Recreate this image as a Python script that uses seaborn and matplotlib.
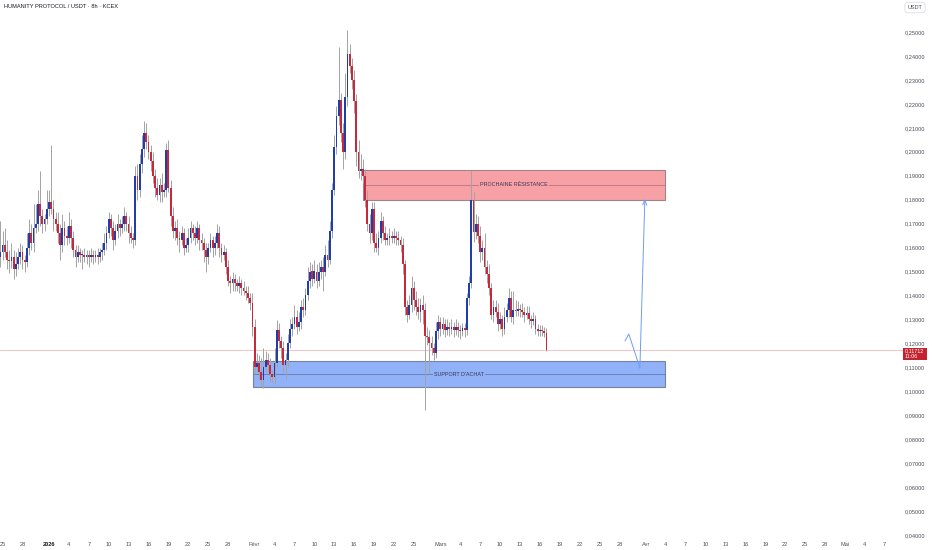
import numpy as np
import pandas as pd
import matplotlib
matplotlib.use("Agg")
import matplotlib.pyplot as plt
import matplotlib.dates as mdates
from matplotlib.patches import Rectangle
import seaborn as sns

# ---------------- data ----------------
start_time = "2025-12-24 08:00"
first_open = 0.157
closes = [
    0.156, 0.158, 0.161, 0.158, 0.155, 0.1545, 0.156, 0.151, 0.153, 0.156,
    0.158, 0.155, 0.154, 0.160, 0.166, 0.162, 0.168, 0.170, 0.178, 0.173,
    0.170, 0.172, 0.176, 0.179, 0.176, 0.172, 0.170, 0.166, 0.161, 0.168,
    0.165, 0.164, 0.169, 0.164, 0.159, 0.156, 0.158, 0.157, 0.157, 0.156,
    0.157, 0.156, 0.157, 0.156, 0.157, 0.156, 0.158, 0.159, 0.162, 0.166,
    0.172, 0.168, 0.163, 0.167, 0.170, 0.168, 0.170, 0.173, 0.170, 0.166,
    0.164, 0.163, 0.190, 0.184, 0.195, 0.201, 0.208, 0.204, 0.200, 0.196,
    0.190, 0.185, 0.182, 0.186, 0.183, 0.184, 0.2007, 0.185, 0.173, 0.167,
    0.168, 0.164, 0.163, 0.166, 0.160, 0.161, 0.164, 0.168, 0.166, 0.164,
    0.168, 0.163, 0.162, 0.159, 0.156, 0.160, 0.163, 0.160, 0.162, 0.166,
    0.160, 0.157, 0.158, 0.152, 0.146, 0.145, 0.147, 0.145, 0.144, 0.145,
    0.143, 0.142, 0.141, 0.139, 0.137, 0.127, 0.110, 0.112, 0.108, 0.1045,
    0.110, 0.113, 0.111, 0.107, 0.106, 0.112, 0.1256, 0.121, 0.118, 0.111,
    0.113, 0.120, 0.126, 0.128, 0.131, 0.127, 0.129, 0.135, 0.134, 0.140,
    0.146, 0.150, 0.147, 0.150, 0.146, 0.150, 0.152, 0.150, 0.157, 0.155,
    0.167, 0.184, 0.202, 0.215, 0.2216, 0.208, 0.200, 0.223, 0.241, 0.236,
    0.230, 0.221, 0.200, 0.192, 0.193, 0.190, 0.180, 0.170, 0.166, 0.176,
    0.162, 0.160, 0.164, 0.171, 0.166, 0.163, 0.164, 0.165, 0.164, 0.165,
    0.164, 0.163, 0.161, 0.153, 0.135, 0.132, 0.136, 0.143, 0.138, 0.135,
    0.133, 0.136, 0.134, 0.123, 0.1225, 0.120, 0.118, 0.116, 0.125, 0.129,
    0.126, 0.128, 0.1255, 0.127, 0.126, 0.127, 0.1255, 0.127, 0.1255, 0.125,
    0.1265, 0.1255, 0.139, 0.1452, 0.180, 0.1665, 0.170, 0.165, 0.158, 0.160,
    0.152, 0.149, 0.143, 0.132, 0.135, 0.133, 0.128, 0.130, 0.126, 0.131,
    0.134, 0.139, 0.131, 0.134, 0.1335, 0.1345, 0.134, 0.133, 0.132, 0.1325,
    0.130, 0.1295, 0.130, 0.126, 0.125, 0.1255, 0.125, 0.1245, 0.11712,
]
upper_wick = [
    0.004, 0.013, 0.006, 0.007, 0.005, 0.004, 0.006, 0.003, 0.005, 0.004,
    0.004, 0.003, 0.002, 0.006, 0.006, 0.004, 0.010, 0.008, 0.006, 0.014,
    0.003, 0.002, 0.008, 0.005, 0.024, 0.004, 0.003, 0.005, 0.004, 0.006,
    0.003, 0.004, 0.006, 0.003, 0.003, 0.002, 0.003, 0.002, 0.002, 0.003,
    0.002, 0.002, 0.003, 0.002, 0.002, 0.003, 0.002, 0.003, 0.004, 0.003,
    0.003, 0.002, 0.003, 0.003, 0.004, 0.002, 0.003, 0.004, 0.002, 0.003,
    0.003, 0.002, 0.004, 0.005, 0.004, 0.006, 0.005, 0.004, 0.003, 0.003,
    0.004, 0.003, 0.004, 0.003, 0.005, 0.003, 0.003, 0.004, 0.003, 0.004,
    0.003, 0.004, 0.003, 0.003, 0.002, 0.003, 0.004, 0.003, 0.002, 0.003,
    0.003, 0.002, 0.003, 0.002, 0.003, 0.002, 0.003, 0.002, 0.003, 0.004,
    0.003, 0.002, 0.003, 0.002, 0.003, 0.002, 0.003, 0.002, 0.002, 0.003,
    0.002, 0.003, 0.002, 0.003, 0.002, 0.004, 0.003, 0.004, 0.003, 0.006,
    0.008, 0.004, 0.003, 0.003, 0.002, 0.006, 0.004, 0.003, 0.002, 0.003,
    0.003, 0.004, 0.004, 0.003, 0.005, 0.003, 0.004, 0.003, 0.004, 0.003,
    0.006, 0.004, 0.003, 0.005, 0.003, 0.004, 0.003, 0.004, 0.004, 0.006,
    0.004, 0.003, 0.005, 0.004, 0.022, 0.003, 0.004, 0.010, 0.010, 0.004,
    0.003, 0.004, 0.003, 0.005, 0.006, 0.004, 0.003, 0.004, 0.004, 0.003,
    0.003, 0.004, 0.003, 0.004, 0.002, 0.003, 0.002, 0.003, 0.002, 0.003,
    0.002, 0.003, 0.002, 0.003, 0.002, 0.003, 0.004, 0.005, 0.003, 0.004,
    0.004, 0.003, 0.004, 0.003, 0.004, 0.003, 0.003, 0.002, 0.004, 0.003,
    0.002, 0.003, 0.002, 0.003, 0.002, 0.003, 0.002, 0.003, 0.002, 0.002,
    0.002, 0.002, 0.002, 0.003, 0.012, 0.003, 0.004, 0.003, 0.004, 0.003,
    0.006, 0.003, 0.004, 0.002, 0.003, 0.003, 0.004, 0.003, 0.002, 0.004,
    0.003, 0.004, 0.003, 0.008, 0.004, 0.003, 0.002, 0.003, 0.002, 0.003,
    0.003, 0.002, 0.003, 0.002, 0.002, 0.002, 0.002, 0.002, 0.002,
]
lower_wick = [
    0.008, 0.004, 0.003, 0.002, 0.004, 0.005, 0.003, 0.004, 0.003, 0.002,
    0.003, 0.004, 0.004, 0.002, 0.003, 0.003, 0.004, 0.002, 0.003, 0.004,
    0.004, 0.003, 0.002, 0.003, 0.002, 0.005, 0.003, 0.004, 0.006, 0.003,
    0.004, 0.003, 0.002, 0.004, 0.003, 0.004, 0.002, 0.003, 0.006, 0.002,
    0.003, 0.004, 0.002, 0.003, 0.002, 0.003, 0.002, 0.003, 0.002, 0.003,
    0.002, 0.003, 0.004, 0.002, 0.003, 0.003, 0.002, 0.003, 0.003, 0.004,
    0.002, 0.003, 0.002, 0.004, 0.003, 0.004, 0.003, 0.003, 0.003, 0.004,
    0.003, 0.004, 0.002, 0.003, 0.004, 0.002, 0.003, 0.002, 0.004, 0.003,
    0.004, 0.003, 0.005, 0.002, 0.003, 0.002, 0.003, 0.002, 0.003, 0.003,
    0.002, 0.004, 0.003, 0.005, 0.006, 0.003, 0.002, 0.004, 0.003, 0.002,
    0.004, 0.003, 0.002, 0.003, 0.002, 0.004, 0.003, 0.003, 0.002, 0.003,
    0.003, 0.002, 0.003, 0.002, 0.003, 0.004, 0.003, 0.002, 0.003, 0.0025,
    0.003, 0.002, 0.003, 0.003, 0.002, 0.003, 0.002, 0.003, 0.004, 0.003,
    0.006, 0.003, 0.002, 0.003, 0.002, 0.003, 0.002, 0.003, 0.003, 0.002,
    0.002, 0.003, 0.003, 0.002, 0.003, 0.002, 0.003, 0.008, 0.002, 0.003,
    0.002, 0.003, 0.002, 0.003, 0.004, 0.004, 0.007, 0.003, 0.004, 0.003,
    0.004, 0.005, 0.006, 0.003, 0.004, 0.003, 0.003, 0.003, 0.004, 0.003,
    0.004, 0.002, 0.003, 0.002, 0.003, 0.002, 0.002, 0.003, 0.002, 0.002,
    0.003, 0.002, 0.003, 0.004, 0.003, 0.003, 0.002, 0.003, 0.004, 0.003,
    0.003, 0.004, 0.006, 0.031, 0.003, 0.013, 0.003, 0.003, 0.002, 0.003,
    0.003, 0.002, 0.003, 0.002, 0.003, 0.002, 0.003, 0.002, 0.003, 0.003,
    0.002, 0.003, 0.002, 0.003, 0.002, 0.004, 0.003, 0.003, 0.004, 0.003,
    0.003, 0.004, 0.003, 0.002, 0.003, 0.002, 0.003, 0.002, 0.003, 0.002,
    0.002, 0.003, 0.002, 0.003, 0.002, 0.002, 0.003, 0.002, 0.003, 0.002,
    0.002, 0.003, 0.002, 0.002, 0.002, 0.002, 0.002, 0.002, 0.0005,
]

# zones (drawings)
zone_labels = ["PROCHAINE RÉSISTANCE", "SUPPORT D'ACHAT"]
zone_top = [0.1924, 0.1126]
zone_bottom = [0.1799, 0.1018]
zone_start = ["2026-02-17 08:00", "2026-01-31 18:00"]
zone_end = ["2026-04-03 21:00", "2026-04-03 21:00"]
zone_fill = ["#f7a1a7", "#91b1f8"]
zone_edge = ["#9c8487", "#77839c"]
zone_mid = ["#b37780", "#6478b4"]

# projected path drawing
path_times = ["2026-03-28 20:00", "2026-03-29 10:00", "2026-03-31 02:00", "2026-03-31 20:00"]
path_prices = [0.1210, 0.1239, 0.1097, 0.1803]

last_price = 0.11712
price_ticks = [0.04, 0.05, 0.06, 0.07, 0.08, 0.09, 0.10, 0.11, 0.12, 0.13, 0.14,
               0.15, 0.16, 0.17, 0.18, 0.19, 0.20, 0.21, 0.22, 0.23, 0.24, 0.25]
# month -> (label for the 1st, days shown)
month_ticks = {
    (2025, 12): (None, [25, 28]),
    (2026, 1): ("2026", [1, 4, 7, 10, 13, 16, 19, 22, 25, 28]),
    (2026, 2): ("Févr", [1, 4, 7, 10, 13, 16, 19, 22, 25]),
    (2026, 3): ("Mars", [1, 4, 7, 10, 13, 16, 19, 22, 25, 28]),
    (2026, 4): ("Avr", [1, 4, 7, 10, 13, 16, 19, 22, 25, 28]),
    (2026, 5): ("Mai", [1, 4, 7]),
}

# ---------------- build ----------------
times = pd.date_range(start_time, periods=len(closes), freq="8h")
df = pd.DataFrame({"time": times, "close": closes})
df["open"] = [first_open] + closes[:-1]
df["high"] = np.maximum(df["open"], df["close"]) + np.array(upper_wick)
df["low"] = np.minimum(df["open"], df["close"]) - np.array(lower_wick)
df["up"] = df["close"] >= df["open"]
df["x"] = mdates.date2num(df["time"])

sns.set_style("white")
plt.rcParams["font.family"] = ["Liberation Sans", "DejaVu Sans"]

W, H = 932, 550
fig = plt.figure(figsize=(W / 100, H / 100), dpi=100)
fig.patch.set_facecolor("white")
ax = fig.add_axes([0, 14 / H, 903 / W, 536 / H])
ax.set_facecolor("white")

px_per_day = 6.633
jan1 = mdates.date2num(pd.Timestamp("2026-01-01"))
x_left = jan1 - 49 / px_per_day
x_right = x_left + 903 / px_per_day
ax.set_xlim(x_left, x_right)
ppx = 2395.0
ax.set_ylim(0.25 - 504 / ppx, 0.25 + 32 / ppx)

# zones
for i in range(len(zone_labels)):
    x0 = mdates.date2num(pd.Timestamp(zone_start[i]))
    x1 = mdates.date2num(pd.Timestamp(zone_end[i]))
    ax.add_patch(Rectangle((x0, zone_bottom[i]), x1 - x0, zone_top[i] - zone_bottom[i],
                           facecolor=zone_fill[i], edgecolor=zone_edge[i], lw=0.8, zorder=1))
    mid = (zone_top[i] + zone_bottom[i]) / 2
    ax.plot([x0, x1], [mid, mid], color=zone_mid[i], lw=0.6, zorder=1.5)
    ax.text((x0 + x1) / 2, mid, zone_labels[i], ha="center", va="center", fontsize=3.9,
            color="#3a3550", zorder=1.6,
            bbox=dict(facecolor=zone_fill[i], edgecolor="none", pad=0.6))

# last price line
ax.axhline(last_price, color="#f3c4c7", lw=0.7, zorder=0.5)

# candles
ax.vlines(df["x"], df["low"], df["high"], color="#a3a3a3", lw=0.7, zorder=2)
body_w = 0.27
for up, color in [(True, "#1f3ea9"), (False, "#c8283b")]:
    d = df[df["up"] == up]
    bottom = np.minimum(d["open"], d["close"])
    height = np.maximum(np.abs(d["close"] - d["open"]), 0.0004)
    ax.bar(d["x"], height, bottom=bottom, width=body_w, color=color, lw=0, zorder=3)

# projection path
px = mdates.date2num(pd.to_datetime(path_times))
ax.plot(px[:-1], path_prices[:-1], color="#6f9cf5", lw=0.7, zorder=4)
ax.annotate("", xy=(px[-1], path_prices[-1]), xytext=(px[-2], path_prices[-2]),
            arrowprops=dict(arrowstyle="->,head_length=0.35,head_width=0.15",
                            color="#6f9cf5", lw=0.7, shrinkA=0, shrinkB=0), zorder=4)

# axes styling
for s in ax.spines.values():
    s.set_visible(False)
ax.yaxis.tick_right()
ax.set_yticks(price_ticks)
ax.set_yticklabels([f"{v:.5f}".replace(".", ",") for v in price_ticks])
ax.tick_params(axis="y", length=0, pad=1.5, labelsize=4.1, colors="#4c4f59")

tick_pos, tick_lab = [], []
for (yr, mo), (name, days) in month_ticks.items():
    for d in days:
        ts = pd.Timestamp(year=yr, month=mo, day=d)
        tick_pos.append(mdates.date2num(ts))
        tick_lab.append(name if (d == 1 and name) else str(d))
ax.set_xticks(tick_pos)
ax.set_xticklabels(tick_lab)
ax.tick_params(axis="x", length=0, pad=4.2, labelsize=4.1, colors="#4c4f59")
for t in ax.get_xticklabels():
    if t.get_text() == "2026":
        t.set_fontweight("bold")
        t.set_color("#131722")
ax.grid(False)

# title
fig.text(4 / W, 1 - 7 / H, "HUMANITY PROTOCOL / USDT · 8h · KCEX", fontsize=4.1,
         color="#131722", ha="left", va="center")
# currency box
fig.text(915 / W, 1 - 7.5 / H, "USDT", fontsize=4.0, color="#4c4f59", ha="center", va="center",
         bbox=dict(boxstyle="round,pad=0.5,rounding_size=0.6", facecolor="white",
                   edgecolor="#dcdde0", lw=0.6))
# price tag
fig.patches.append(Rectangle((903 / W, 1 - 359.5 / H), 24 / W, 12 / H, transform=fig.transFigure,
                             facecolor="#c3222f", edgecolor="none"))
fig.text(905 / W, 1 - 351 / H, f"{last_price:.5f}".replace(".", ","), fontsize=3.9,
         color="white", ha="left", va="center")
fig.text(905 / W, 1 - 356.5 / H, "11:06", fontsize=3.9, color="white", ha="left", va="center")

fig.savefig("out.png", dpi=100, facecolor="white")
